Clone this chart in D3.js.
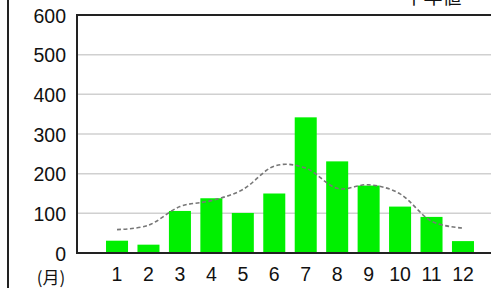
<!DOCTYPE html>
<html><head><meta charset="utf-8">
<script src="https://cdn.jsdelivr.net/npm/d3@7"></script>
<style>
html,body{margin:0;padding:0;background:#fff;overflow:hidden;}
svg{display:block;}
text{font-family:"Liberation Sans",Arial,sans-serif;fill:#111;}
</style></head>
<body>
<svg id="c" width="491" height="288"></svg>
<script>
const months = ["1","2","3","4","5","6","7","8","9","10","11","12"];
const values = [31, 21, 106, 138, 101, 150, 342, 231, 170, 117, 91, 30];
const normals = [59, 70, 117, 132, 160, 219, 214, 163, 172, 149, 80, 63];
const yTicks = [0, 100, 200, 300, 400, 500, 600];
const legendLabel = "平年値";
const unitLabel = "(月)";

(function () {
const svg = d3.select("#c");
const mLeft = 77, mTop = 15, mBottom = 253, mRight = 495;

const x = d3.scaleBand().domain(months).range([101.3, 478.7]).paddingInner(0.3).paddingOuter(0.15);
const y = d3.scaleLinear().domain([0, 600]).range([mBottom, mTop]);

// outer left border
svg.append("line").attr("x1", 8).attr("x2", 8).attr("y1", 0).attr("y2", 288)
  .attr("stroke", "#222").attr("stroke-width", 2);

// gridlines
svg.append("g").selectAll("line").data(yTicks.filter(d => d > 0 && d < 600)).join("line")
  .attr("x1", mLeft).attr("x2", mRight).attr("y1", d => y(d)).attr("y2", d => y(d))
  .attr("stroke", "#d0d0d0").attr("stroke-width", 1.5);

// bars
svg.append("g").selectAll("rect").data(values).join("rect")
  .attr("x", (d, i) => x(months[i])).attr("width", x.bandwidth())
  .attr("y", d => y(d)).attr("height", d => y(0) - y(d))
  .attr("fill", "#00f000");

// normals dashed line
const line = d3.line().x((d, i) => x(months[i]) + x.bandwidth() / 2).y(d => y(d)).curve(d3.curveCatmullRom.alpha(0.1));
svg.append("path").datum(normals).attr("d", line).attr("fill", "none")
  .attr("stroke", "#777").attr("stroke-width", 1.6).attr("stroke-dasharray", "4,2.5");

// frame: top, left, bottom
svg.append("line").attr("x1", mLeft).attr("x2", mRight).attr("y1", mTop).attr("y2", mTop)
  .attr("stroke", "#222").attr("stroke-width", 2);
svg.append("line").attr("x1", mLeft).attr("x2", mLeft).attr("y1", mTop - 1).attr("y2", mBottom + 1)
  .attr("stroke", "#222").attr("stroke-width", 2);
svg.append("line").attr("x1", mLeft - 1).attr("x2", mRight).attr("y1", mBottom).attr("y2", mBottom)
  .attr("stroke", "#222").attr("stroke-width", 2);

// y axis labels
const yAxis = d3.axisLeft(y).tickValues(yTicks).tickSize(0).tickPadding(11);
const gy = svg.append("g").attr("transform", `translate(${mLeft},0)`).call(yAxis);
gy.select(".domain").remove();
gy.selectAll("text").style("font-family", '"Liberation Sans",Arial,sans-serif')
  .style("font-size", "19.5px").attr("fill", "#111").attr("dy", "0.36em");

// x axis labels
const xAxis = d3.axisBottom(x).tickSize(0).tickPadding(0);
const gx = svg.append("g").attr("transform", `translate(0,${mBottom})`).call(xAxis);
gx.select(".domain").remove();
gx.selectAll("text").style("font-family", '"Liberation Sans",Arial,sans-serif')
  .style("font-size", "19.5px").attr("fill", "#111").attr("y", 28).attr("dy", 0);

svg.append("text").attr("x", 51).attr("y", 284).attr("text-anchor", "middle")
  .style("font-family", '"Noto Sans CJK JP",sans-serif').style("font-size", "17px").text(unitLabel);

// legend label (cut at top, as in the reference)
svg.append("text").attr("x", 433).attr("y", 4).attr("text-anchor", "middle")
  .style("font-family", '"Noto Sans CJK JP",sans-serif').style("font-size", "19px").text(legendLabel);
})();
</script>
</body></html>
